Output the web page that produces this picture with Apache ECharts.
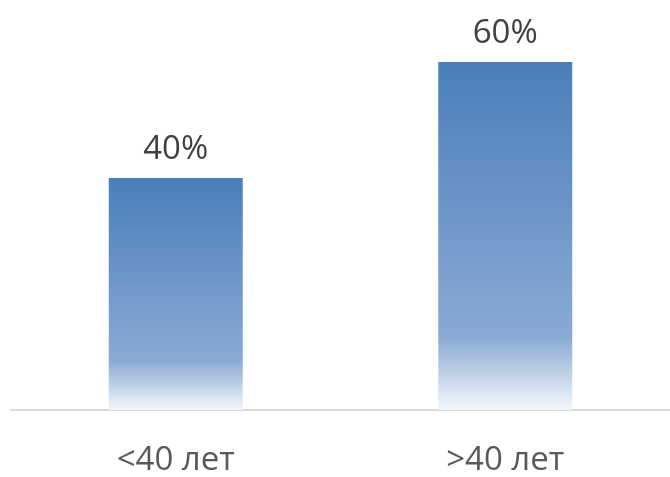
<!DOCTYPE html>
<html><head><meta charset="utf-8">
<script src="https://cdn.jsdelivr.net/npm/echarts@6/dist/echarts.min.js"></script>
<style>html,body{margin:0;padding:0;background:#fff;overflow:hidden}#c{width:670px;height:477px}</style>
</head><body><div id="c"></div>
<script>
const categories = ['<40 лет', '>40 лет'];
const values = [40, 60];
const chart = echarts.init(document.getElementById('c'));
chart.setOption({
  animation: false,
  grid: {left: 11, width: 666, top: 62, height: 354, containLabel: false},
  xAxis: {
    type: 'category', data: categories,
    axisLine: {lineStyle: {color: '#d9d9d9', width: 2}},
    axisTick: {show: false},
    axisLabel: {color: '#595959', fontSize: 33, fontFamily: 'Open Sans', margin: 34}
  },
  yAxis: {type: 'value', min: 0, max: 60, show: false, splitLine: {show: false}},
  series: [{
    type: 'bar', data: values, barWidth: 134,
    itemStyle: {color: new echarts.graphic.LinearGradient(0, 0, 0, 1, [
      {offset: 0, color: '#4a7ebb'},
      {offset: 0.79, color: '#8aaad4'},
      {offset: 1, color: '#f4f7fb'}
    ])},
    label: {show: true, position: 'top', distance: 12, formatter: '{c}%', color: '#404040', fontSize: 33, fontFamily: 'Open Sans'}
  }]
});
</script></body></html>
